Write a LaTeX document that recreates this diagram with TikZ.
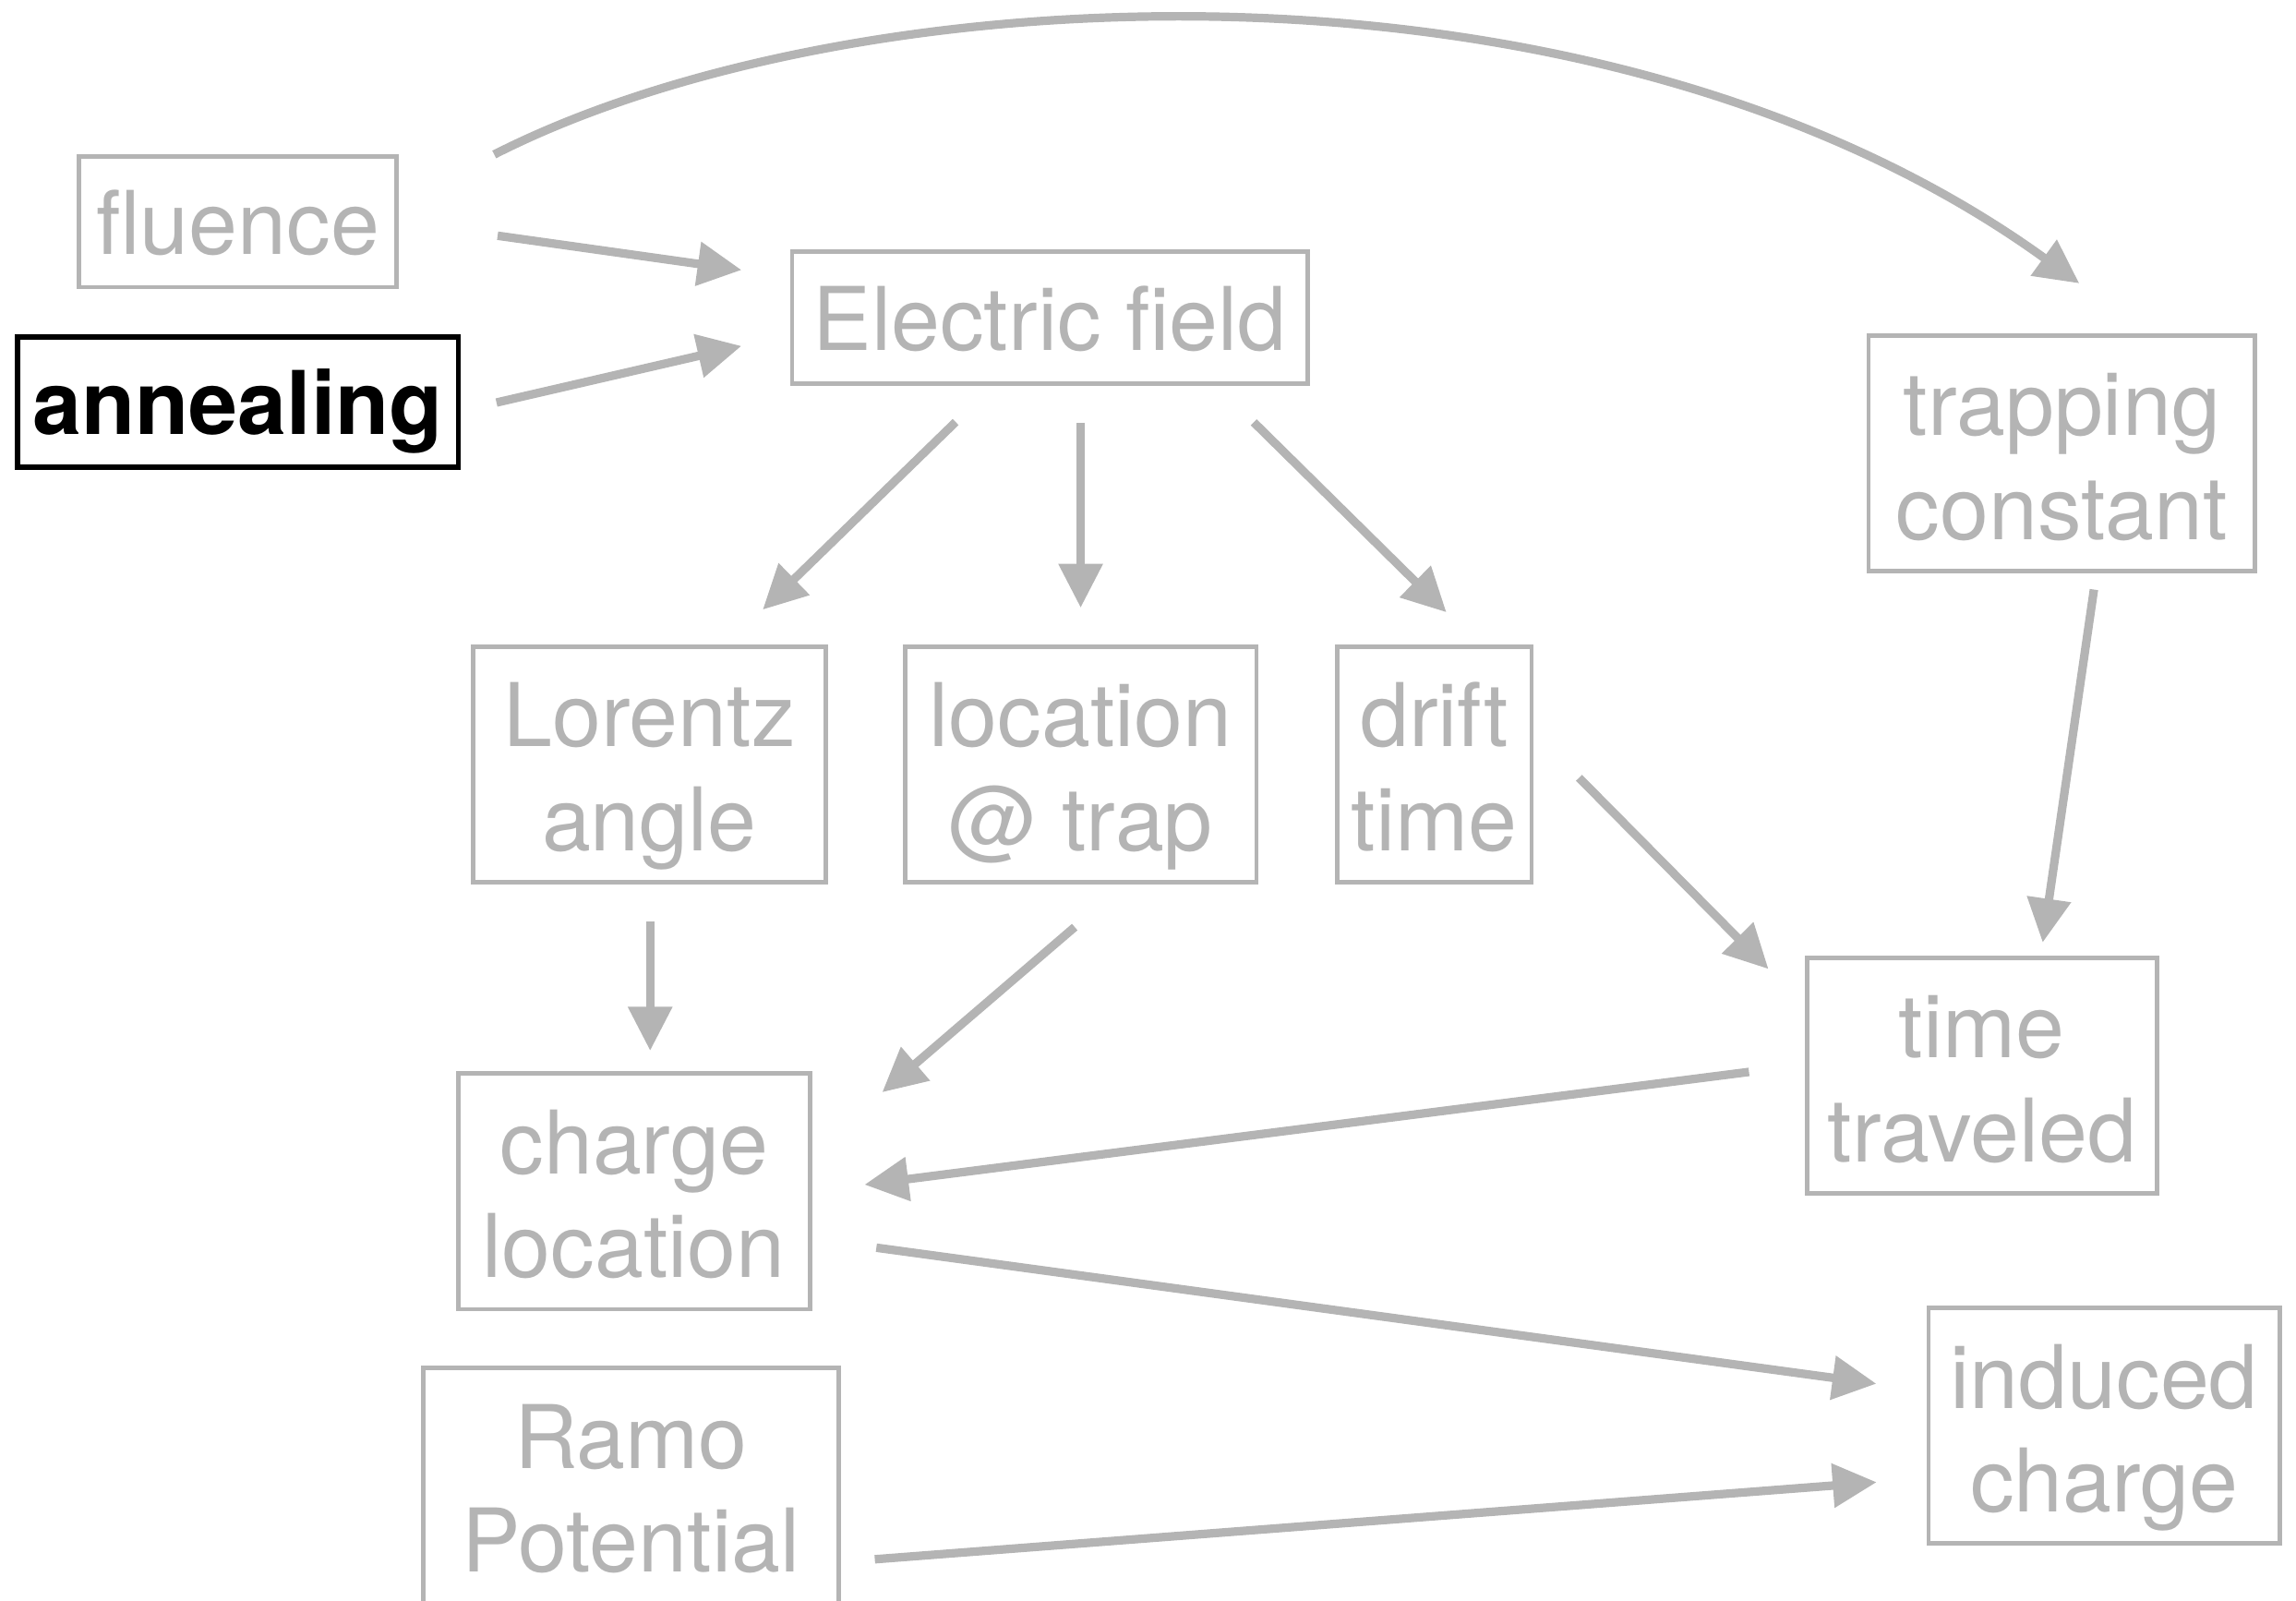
\documentclass[tikz,border=0pt]{standalone}
\usepackage{fontspec}
\setmainfont{TeX Gyre Heros}
\usetikzlibrary{arrows.meta}
\definecolor{boxgray}{RGB}{180,180,180}

\tikzset{every picture/.style={line width=0.75pt}}
\tikzset{
  gbox/.style={draw=boxgray, line width=1.5pt, text=boxgray, align=center, inner sep=0pt,
    font=\fontsize{30}{35.5}\selectfont, minimum height=80.5pt, text height=59pt, text depth=0pt},
  onebox/.style={gbox, minimum height=44.5pt, text height=22pt, text depth=0pt},
  kbox/.style={draw=black, line width=1.7pt, text=black, inner sep=0pt,
    font=\fontsize{30}{35.5}\selectfont\bfseries, minimum height=44.5pt, text height=22pt, text depth=0pt},
  garrow/.style={draw=boxgray, line width=2.9pt, -{Triangle[length=15pt,width=14.5pt]}}
}

\begin{document}
\begin{tikzpicture}[x=0.5pt,y=0.5pt,yscale=-1,xscale=1]
\clip (0,0) rectangle (1568,1093);
% Text Nodes
\node [onebox, minimum width=108.5pt] (fluence) at (162.5,151.5) {fluence};
\node [kbox, minimum width=150.5pt] (anneal) at (162.5,274.5) {annealing};
\node [onebox, minimum width=176pt, minimum height=45pt] (efield) at (717,217) {Electric field};
\node [gbox, minimum width=132pt] (trapping) at (1408,309.5) {trapping\\constant};
\node [gbox, minimum width=120.5pt] (lorentz) at (443.5,522) {Lorentz\\angle};
\node [gbox, minimum width=120pt] (loctrap) at (738,522) {location\\@ trap};
\node [gbox, minimum width=66.5pt] (drift) at (979.5,522) {drift\\time};
\node [gbox, minimum width=119.5pt] (timetrav) at (1353.5,734.5) {time\\traveled};
\node [gbox, minimum width=120pt] (chargeloc) at (433,813.5) {charge\\location};
\node [gbox, minimum width=142pt] (ramo) at (431,1014.5) {Ramo\\Potential};
\node [gbox, minimum width=120pt] (induced) at (1437,973.5) {induced\\charge};

%Straight Lines
\draw [garrow, shorten <=34pt, shorten >=16.7pt] (fluence.east) -- ([yshift=-14pt]efield.west);
\draw [garrow, shorten <=12.5pt, shorten >=17pt] ([yshift=3pt]anneal.east) -- ([yshift=5.8pt]efield.west);
\draw [garrow, shorten <=17.7pt, shorten >=17pt] ([xshift=-19.5pt]efield.south) -- ([xshift=26.5pt]lorentz.north);
\draw [garrow, shorten <=12.5pt, shorten >=12.5pt] ([xshift=10.5pt]efield.south) -- (loctrap.north);
\draw [garrow, shorten <=17.7pt, shorten >=15.6pt] ([xshift=57pt]efield.south) -- ([xshift=15.25pt]drift.north);
\draw [garrow, shorten <=5.6pt, shorten >=4.5pt] ([xshift=11.8pt]trapping.south) -- ([xshift=20.1pt]timetrav.north);
\draw [garrow, shorten <=21.9pt, shorten >=17.6pt] ([yshift=-11pt]drift.east) -- ([yshift=-23.9pt]timetrav.west);
\draw [garrow, shorten <=12.5pt, shorten >=7pt] ([xshift=0.25pt]lorentz.south) -- ([xshift=5.5pt]chargeloc.north);
\draw [garrow, shorten <=22.3pt, shorten >=31.6pt] ([xshift=14.9pt]loctrap.south) -- ([yshift=-13.25pt]chargeloc.east);
\draw [garrow, shorten <=19.2pt, shorten >=18.1pt] ([yshift=-3.7pt]timetrav.west) -- (chargeloc.east);
\draw [garrow, shorten <=22.2pt, shorten >=17.2pt] ([yshift=16.25pt]chargeloc.east) -- ([yshift=-12pt]induced.west);
\draw [garrow, shorten <=11.5pt, shorten >=17pt] ([yshift=26pt]ramo.east) -- ([yshift=18pt]induced.west);
%Curve Lines
\draw [garrow] ([xshift=32.5pt]fluence.north east) .. controls (580,-18) and (1090,-45) .. ([xshift=6pt,yshift=-17pt]trapping.north);
\end{tikzpicture}
\end{document}
